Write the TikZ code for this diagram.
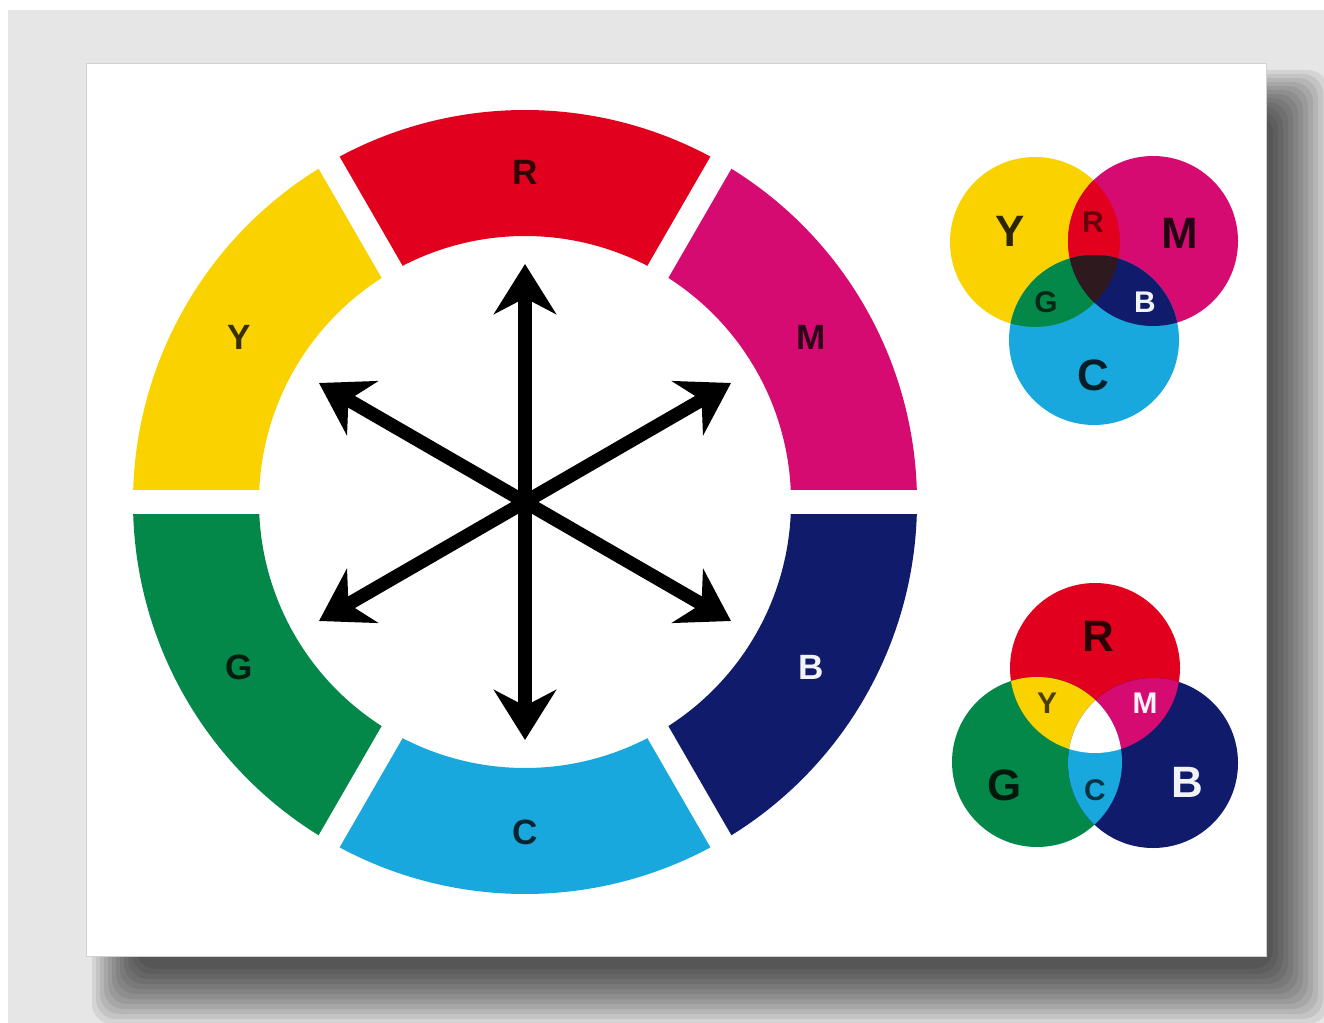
\documentclass[tikz,border=0pt]{standalone}
\usepackage{fontspec}
\setmainfont{Liberation Sans}
\usetikzlibrary{arrows.meta}
\definecolor{cR}{HTML}{E1001E}
\definecolor{cM}{HTML}{D60B72}
\definecolor{cB}{HTML}{101B6B}
\definecolor{cC}{HTML}{18A8DE}
\definecolor{cG}{HTML}{04884A}
\definecolor{cY}{HTML}{FAD200}
\definecolor{cK}{HTML}{2E1A1E}
\definecolor{bg}{HTML}{E6E6E6}
\begin{document}
\begin{tikzpicture}[x=0.02cm,y=0.02cm,
  lbl/.style={font=\bfseries\fontsize{20}{20}\selectfont, text=black, text opacity=0.78, inner sep=0},
  big/.style={font=\bfseries\fontsize{25}{25}\selectfont, text=black, text opacity=0.82, inner sep=0},
  small/.style={font=\bfseries\fontsize{17}{17}\selectfont, text=black, text opacity=0.7, inner sep=0},
  wtext/.style={text=white, text opacity=0.95},
  arr/.style={line width=0.27cm,
    {Stealth[length=1.0cm,width=1.24cm,inset=0.32cm]}-{Stealth[length=1.0cm,width=1.24cm,inset=0.32cm]}},
]
\useasboundingbox (0,0) rectangle (1324,-1023);
% background
\fill[white] (0,0) rectangle (1324,-1023);
\fill[bg] (8,-10) rectangle (1324,-1023);
% soft shadow
\foreach \i in {0,...,11}
  \fill[black, opacity=0.075, rounded corners=0.4cm] (92+4*\i,-70-4*\i) rectangle (1328-5*\i,-1024+5*\i);
% card
\fill[white] (86,-63) rectangle (1266,-956);
\draw[black!18, line width=0.5pt] (86,-63) rectangle (1266,-956);

% colour wheel
\coordinate (W) at (525,-502);
\foreach \a/\c in {90/cR,30/cM,-30/cB,-90/cC,-150/cG,150/cY}
  \fill[\c] (W) ++(\a-30:392) arc[start angle=\a-30, end angle=\a+30, radius=392]
    -- ++(\a+30:-126) arc[start angle=\a+30, end angle=\a-30, radius=266] -- cycle;
\foreach \a in {0,60,...,300}
  \draw[white, line width=0.48cm] (W) ++(\a:230) -- ++(\a:190);

\node[lbl] (wR) at (525,-172) {R};
\node[lbl] (wM) at (811,-337) {M};
\node[lbl,wtext] (wB) at (811,-667) {B};
\node[lbl] (wC) at (525,-832) {C};
\node[lbl] (wG) at (239,-667) {G};
\node[lbl] (wY) at (239,-337) {Y};

% arrows
\coordinate (p90) at (525,-264);
\coordinate (p270) at (525,-740);
\coordinate (p30) at (731,-383);
\coordinate (p210) at (319,-621);
\coordinate (p150) at (319,-383);
\coordinate (p330) at (731,-621);
\draw[arr] (p270) -- (p90);
\draw[arr] (p210) -- (p30);
\draw[arr] (p150) -- (p330);

% subtractive circles (top right)
\def\rr{85}
\coordinate (sY) at (1035,-242);
\coordinate (sM) at (1153,-241);
\coordinate (sC) at (1094,-340);
\fill[cY] (sY) circle[radius=\rr];
\fill[cM] (sM) circle[radius=\rr];
\fill[cC] (sC) circle[radius=\rr];
\begin{scope}\clip (sY) circle[radius=\rr]; \fill[cR] (sM) circle[radius=\rr];\end{scope}
\begin{scope}\clip (sY) circle[radius=\rr]; \fill[cG] (sC) circle[radius=\rr];\end{scope}
\begin{scope}\clip (sM) circle[radius=\rr]; \fill[cB] (sC) circle[radius=\rr];\end{scope}
\begin{scope}\clip (sY) circle[radius=\rr]; \clip (sM) circle[radius=\rr]; \fill[cK] (sC) circle[radius=\rr];\end{scope}
\node[big] (tY) at (1010,-231) {Y};
\node[small, text opacity=0.55] (tR) at (1093,-222) {R};
\node[big] (tM) at (1180,-233) {M};
\node[small] (tG) at (1046,-302) {G};
\node[small,wtext] (tB) at (1145,-302) {B};
\node[big] (tC) at (1093,-375) {C};

% additive circles (bottom right)
\coordinate (aR) at (1095,-668);
\coordinate (aG) at (1037,-762);
\coordinate (aB) at (1153,-763);
\fill[cR] (aR) circle[radius=\rr];
\fill[cG] (aG) circle[radius=\rr];
\fill[cB] (aB) circle[radius=\rr];
\begin{scope}\clip (aR) circle[radius=\rr]; \fill[cY] (aG) circle[radius=\rr];\end{scope}
\begin{scope}\clip (aR) circle[radius=\rr]; \fill[cM] (aB) circle[radius=\rr];\end{scope}
\begin{scope}\clip (aG) circle[radius=\rr]; \fill[cC] (aB) circle[radius=\rr];\end{scope}
\begin{scope}\clip (aR) circle[radius=\rr]; \clip (aG) circle[radius=\rr]; \fill[white] (aB) circle[radius=\rr];\end{scope}
\node[big] (bR) at (1098,-636) {R};
\node[small] (bY) at (1047,-703) {Y};
\node[small,wtext] (bM) at (1145,-703) {M};
\node[big] (bG) at (1005,-785) {G};
\node[small] (bC) at (1095,-790) {C};
\node[big,wtext] (bB) at (1187,-782) {B};
\end{tikzpicture}
\end{document}
